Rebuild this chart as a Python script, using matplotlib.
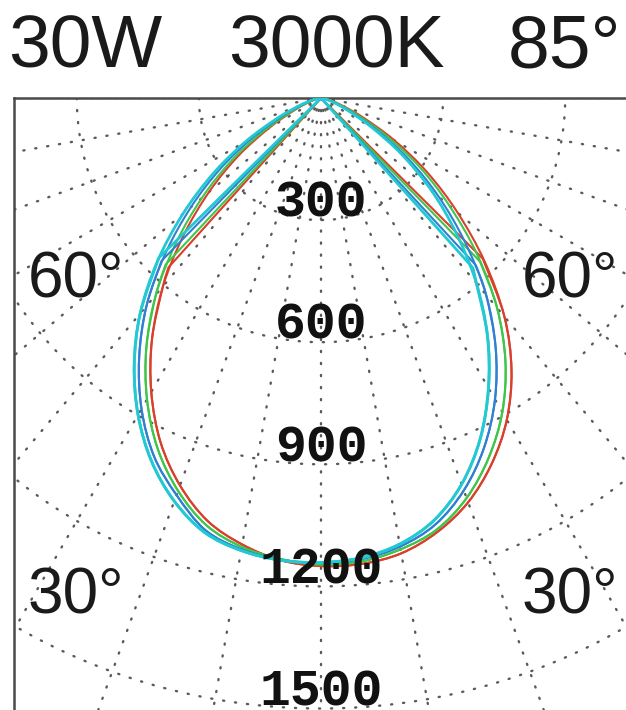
import numpy as np
import matplotlib
matplotlib.use("Agg")
import matplotlib.pyplot as plt
from matplotlib.path import Path
from matplotlib.patches import PathPatch

# ---------------- data (candela, gamma angle in degrees, 0 = straight down) ----------
gamma_deg = list(range(-90, 95, 5))

cyan_cd = [1, 5, 12, 29, 60, 120, 213, 323, 443, 569, 691, 800, 899, 985, 1054, 1105, 1129, 1140,
           1141,
           1134, 1113, 1074, 1010, 925, 823, 713, 594, 470, 355, 243, 143, 73, 36, 16, 6, 2, 0]
blue_cd = [1, 4, 10, 24, 51, 103, 191, 300, 417, 541, 667, 779, 882, 971, 1038, 1099, 1126, 1139,
           1142,
           1137, 1119, 1085, 1026, 948, 855, 748, 631, 500, 378, 264, 159, 82, 41, 18, 7, 2, 0]
green_cd = [0, 3, 7, 19, 42, 84, 163, 269, 382, 504, 631, 748, 855, 950, 1027, 1087, 1120, 1137,
            1146,
            1143, 1126, 1098, 1046, 975, 891, 790, 673, 542, 412, 296, 186, 99, 50, 23, 9, 4, 0]
red_cd = [0, 2, 6, 16, 37, 75, 147, 248, 359, 478, 604, 724, 834, 933, 1013, 1076, 1114, 1140,
          1150,
          1149, 1136, 1104, 1057, 992, 913, 816, 701, 569, 438, 319, 208, 116, 58, 28, 12, 5, 1]

# second plane: same curve inside +-40 deg, then a sharp cut-off at the kink angles
kink_left_deg = {"cyan": -45.4, "blue": -44.4, "green": -43.0, "red": -42.0}
kink_right_deg = {"cyan": 41.8, "blue": 42.8, "green": 44.2, "red": 45.2}
kink_cd = 560

series_names = ["red", "green", "blue", "cyan"]
series_values = {"cyan": cyan_cd, "blue": blue_cd, "green": green_cd, "red": red_cd}
series_colors = {"cyan": "#22c9d2", "blue": "#2f80d2", "green": "#3fc64a", "red": "#d9402c"}
series_lw = {"cyan": 2.0, "blue": 1.5, "green": 1.5, "red": 1.5}

ring_values = [300, 600, 900, 1200, 1500]
ring_labels = ["300", "600", "900", "1200", "1500"]
spoke_deg = list(range(-90, 100, 10))
angle_labels = ["60°", "30°"]
title_parts = ["30W", "3000K", "85°"]

# ---------------- layout ----------------
W, H = 626, 710
fig = plt.figure(figsize=(W / 100, H / 100), dpi=100)
ox, oy = 321, 98          # pixel position of the polar origin
k = 0.407                 # pixels per candela
ax_l, ax_r, ax_t, ax_b = 14, 628, 98, 714
ax = fig.add_axes([ax_l / W, 1 - ax_b / H, (ax_r - ax_l) / W, (ax_b - ax_t) / H])
ax.set_xlim((ax_l - ox) / k, (ax_r - ox) / k)
ax.set_ylim(-(ax_b - oy) / k, 0)
ax.set_xticks([])
ax.set_yticks([])
for s in ["right", "bottom"]:
    ax.spines[s].set_visible(False)
for s in ["left", "top"]:
    ax.spines[s].set_color("#4a4a4a")
    ax.spines[s].set_linewidth(1.8)


def to_xy(g_deg, r):
    g = np.radians(np.asarray(g_deg, dtype=float))
    r = np.asarray(r, dtype=float)
    return r * np.sin(g), -r * np.cos(g)


def smooth_segments(pts):
    """Catmull-Rom through pts, returned as cubic Bezier vertices/codes (no MOVETO)."""
    P = np.asarray(pts, dtype=float)
    n = len(P)
    verts, codes = [], []
    for i in range(n - 1):
        p0 = P[i - 1] if i > 0 else P[i]
        p1, p2 = P[i], P[i + 1]
        p3 = P[i + 2] if i + 2 < n else P[i + 1]
        verts += [p1 + (p2 - p0) / 6.0, p2 - (p3 - p1) / 6.0, p2]
        codes += [Path.CURVE4] * 3
    return verts, codes


grid_kw = dict(color="#5a5a5a", lw=1.7, linestyle=(0, (0.5, 4.6)),
               dash_capstyle="round", zorder=1)
tt = np.linspace(-90, 90, 721)
for rv in ring_values + [1800, 2100]:
    gx, gy = to_xy(tt, np.full_like(tt, rv))
    ax.plot(gx, gy, **grid_kw)
for sd in spoke_deg:
    gx, gy = to_xy([sd, sd], [0, 3000])
    ax.plot(gx, gy, **grid_kw)

for name in series_names:
    vals = series_values[name]
    col = series_colors[name]
    lw = series_lw[name]
    # plane A: full curve, smooth
    xa, ya = to_xy(gamma_deg, vals)
    pts = list(zip(xa, ya))
    v, c = smooth_segments(pts)
    path_a = Path([pts[0]] + v, [Path.MOVETO] + c)
    ax.add_patch(PathPatch(path_a, fill=False, edgecolor=col, lw=lw, zorder=3,
                           joinstyle="round", capstyle="round"))
    # plane B: straight cut-off lines to the origin, smooth in between
    inner_g = [kink_left_deg[name]] + [g for g in gamma_deg if -40 <= g <= 40] + [kink_right_deg[name]]
    inner_v = [kink_cd] + [vv for g, vv in zip(gamma_deg, vals) if -40 <= g <= 40] + [kink_cd]
    xb, yb = to_xy(inner_g, inner_v)
    ptsb = list(zip(xb, yb))
    v, c = smooth_segments(ptsb)
    verts = [(0.0, 0.0), ptsb[0]] + v + [(0.0, 0.0)]
    codes = [Path.MOVETO, Path.LINETO] + c + [Path.LINETO]
    ax.add_patch(PathPatch(Path(verts, codes), fill=False, edgecolor=col, lw=lw, zorder=3,
                           joinstyle="round", capstyle="round"))

for rv, lab in zip(ring_values, ring_labels):
    ax.text(0, -(rv - 8), lab, ha="center", va="baseline",
            family="Liberation Mono", weight="bold", fontsize=37, color="#111111", zorder=5)

# angle labels
ang_font = dict(family="Liberation Sans", fontsize=46, color="#1a1a1a")
fig.text(28 / W, 1 - 297 / H, angle_labels[0], ha="left", va="baseline", **ang_font)
fig.text(522 / W, 1 - 297 / H, angle_labels[0], ha="left", va="baseline", **ang_font)
fig.text(28 / W, 1 - 613 / H, angle_labels[1], ha="left", va="baseline", **ang_font)
fig.text(522 / W, 1 - 613 / H, angle_labels[1], ha="left", va="baseline", **ang_font)

# title
tfont = dict(family="Liberation Sans", fontsize=54, color="#1a1a1a")
for xpos, part in zip([8, 228, 508], title_parts):
    fig.text(xpos / W, 1 - 68 / H, part, ha="left", va="baseline", **tfont)

fig.savefig("out.png", dpi=100)
